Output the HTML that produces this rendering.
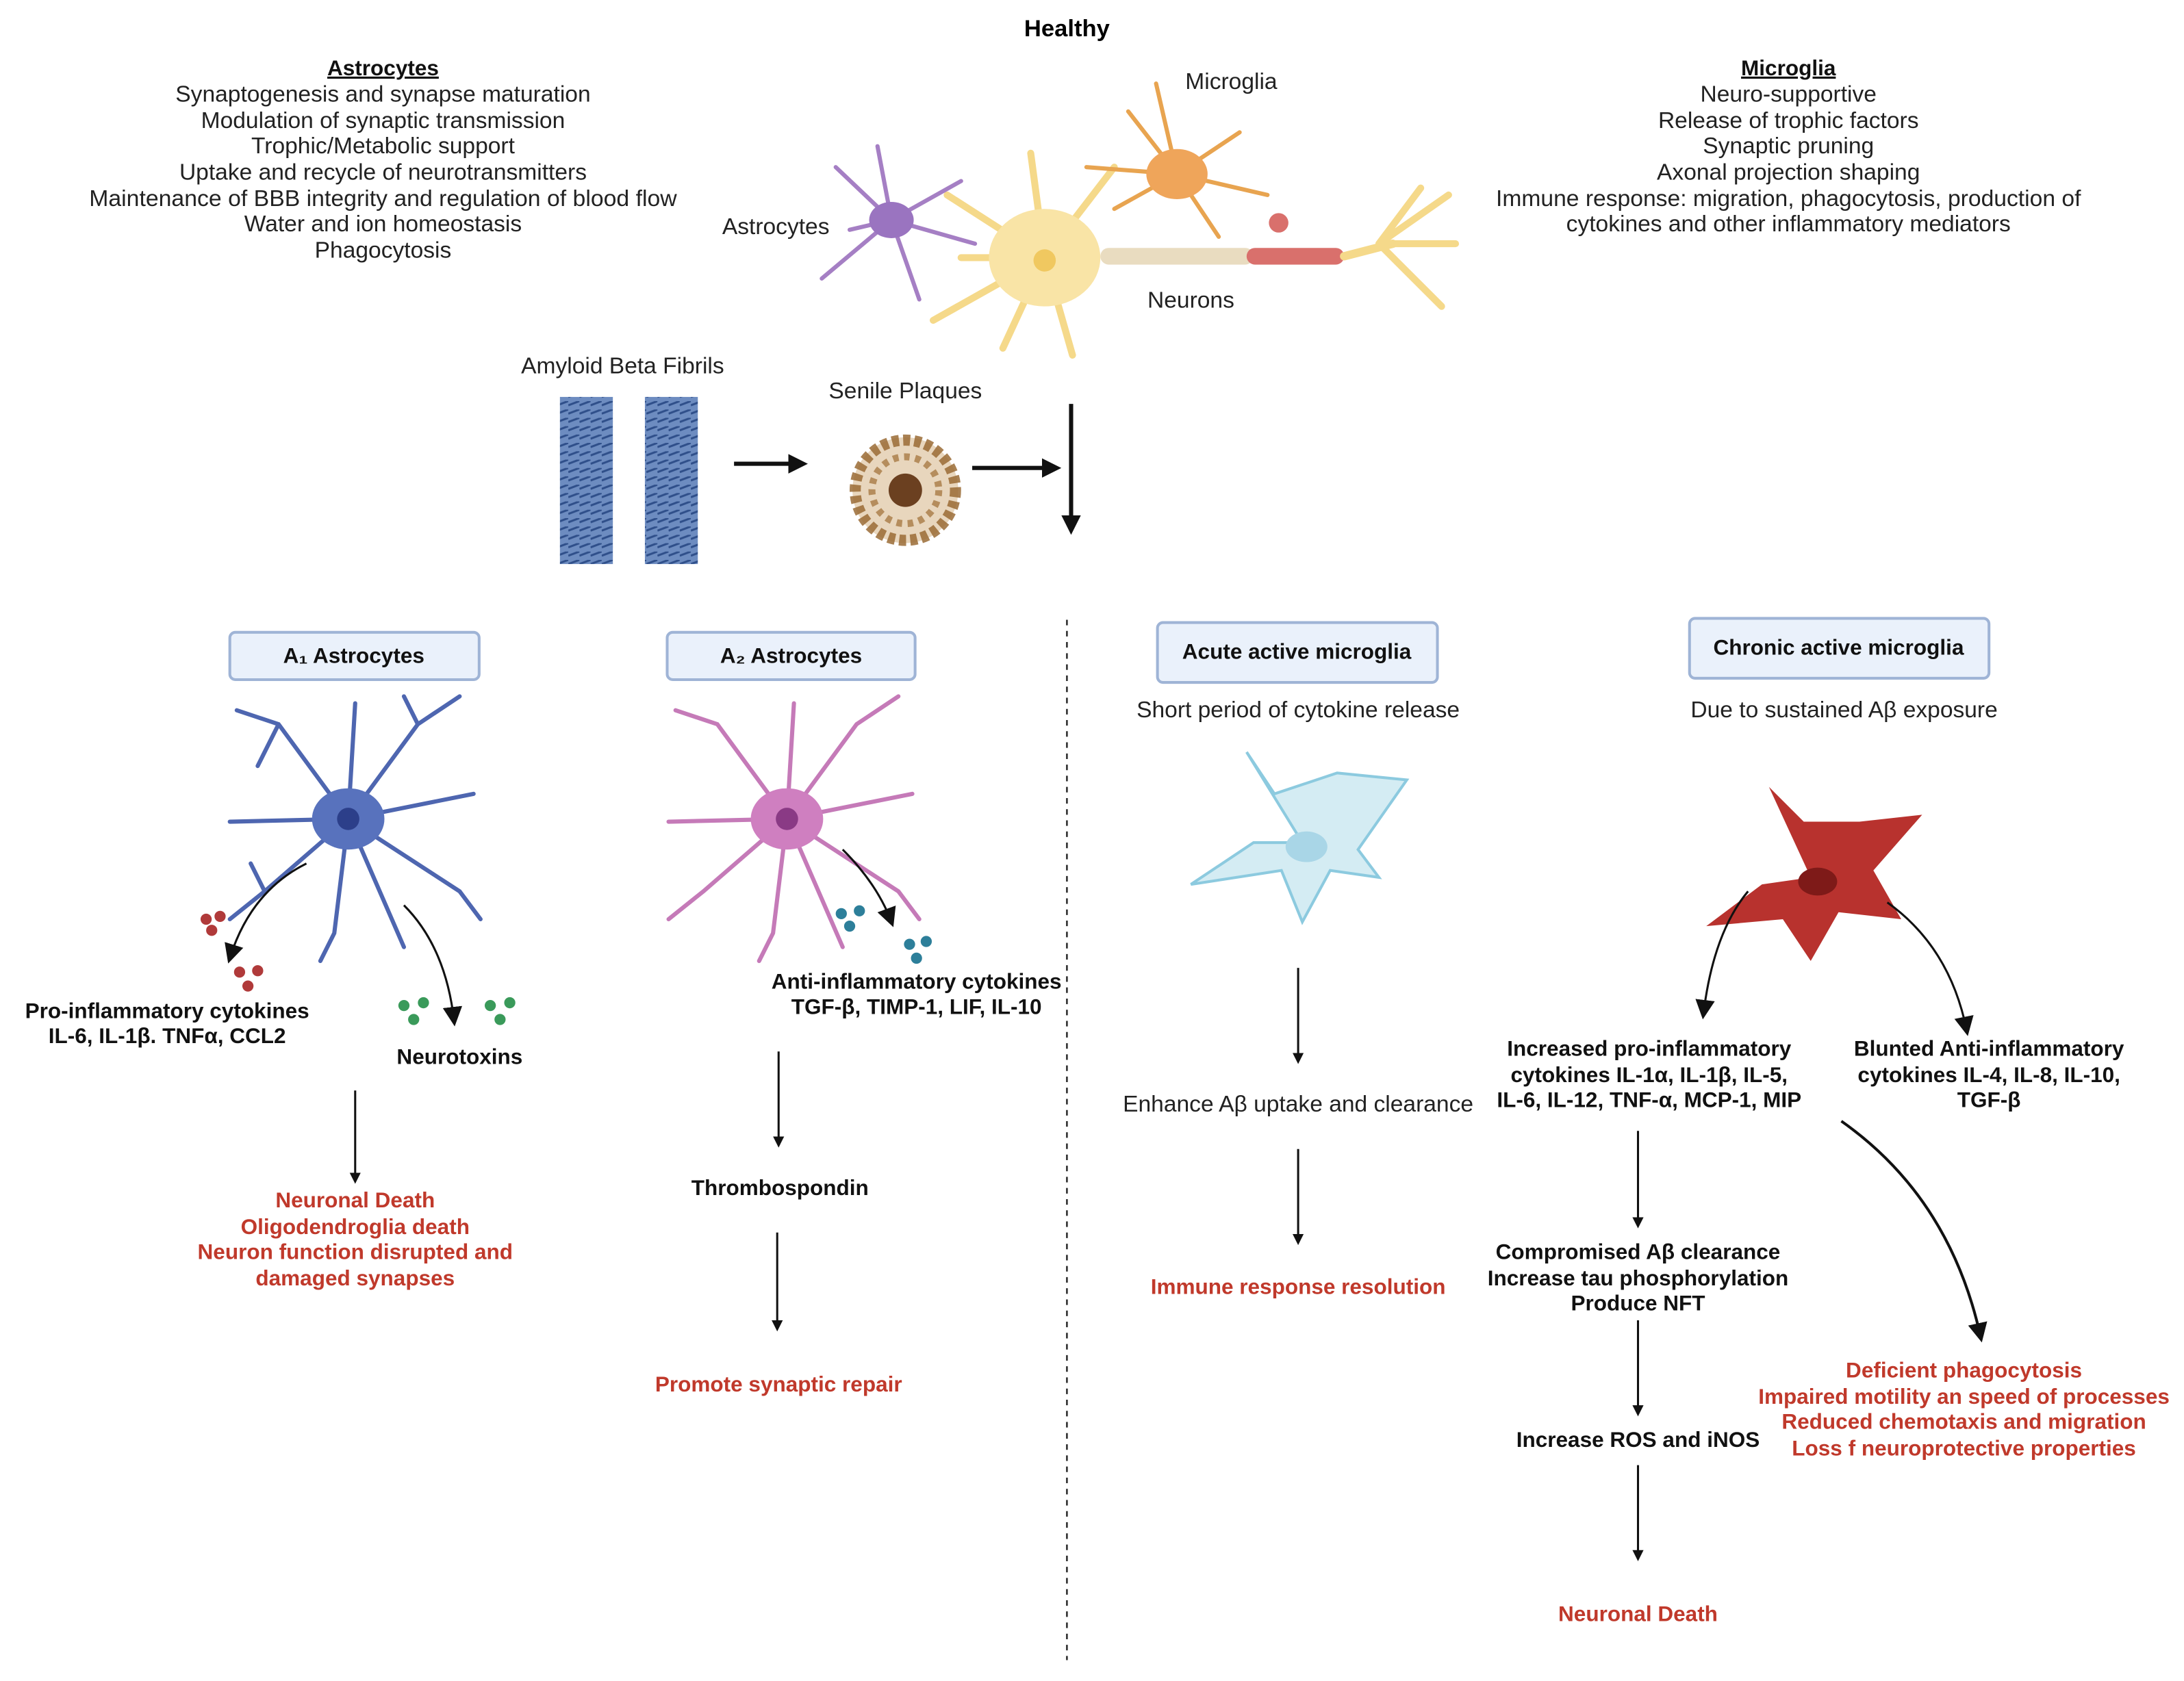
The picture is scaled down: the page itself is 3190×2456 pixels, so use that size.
<!DOCTYPE html>
<html><head><meta charset="utf-8"><style>
html,body{margin:0;padding:0;background:#fff;}
svg{display:block;}
text{font-family:"Liberation Sans",sans-serif;}
.n{font-size:16.5px;fill:#222;}
.b{font-size:15.5px;font-weight:bold;fill:#111;}
.r{font-size:15.5px;font-weight:bold;fill:#c0392b;}
.box{fill:#eaf1fb;stroke:#9fb4d6;stroke-width:2;}
</style></head><body>
<svg width="3190" height="2456" viewBox="0 0 1568 1207" preserveAspectRatio="none" xmlns="http://www.w3.org/2000/svg">
<defs>
<marker id="ah" markerWidth="8" markerHeight="8" refX="6" refY="4" orient="auto" markerUnits="userSpaceOnUse"><path d="M0,0 L8,4 L0,8 z" fill="#111"/></marker>
<marker id="ahb" markerWidth="14" markerHeight="14" refX="10" refY="7" orient="auto" markerUnits="userSpaceOnUse"><path d="M0,0 L14,7 L0,14 z" fill="#111"/></marker>
<pattern id="fib" width="8" height="6" patternUnits="userSpaceOnUse"><rect width="8" height="6" fill="#6d8cc0"/><path d="M0,3 L8,0" stroke="#2f4f8a" stroke-width="1.5"/></pattern>
</defs>
<text x="766" y="26" text-anchor="middle" style="font-size:17px;font-weight:bold">Healthy</text>
<g text-anchor="middle" class="n">
<text x="275" y="54" class="b" text-decoration="underline">Astrocytes</text>
<text x="275" y="73" class="n">Synaptogenesis and synapse maturation</text>
<text x="275" y="92" class="n">Modulation of synaptic transmission</text>
<text x="275" y="110" class="n">Trophic/Metabolic support</text>
<text x="275" y="129" class="n">Uptake and recycle of neurotransmitters</text>
<text x="275" y="148" class="n" textLength="422" lengthAdjust="spacingAndGlyphs">Maintenance of BBB integrity and regulation of blood flow</text>
<text x="275" y="166" class="n">Water and ion homeostasis</text>
<text x="275" y="185" class="n">Phagocytosis</text>
<text x="1284" y="54" class="b" text-decoration="underline">Microglia</text>
<text x="1284" y="73" class="n">Neuro-supportive</text>
<text x="1284" y="92" class="n">Release of trophic factors</text>
<text x="1284" y="110" class="n">Synaptic pruning</text>
<text x="1284" y="129" class="n">Axonal projection shaping</text>
<text x="1284" y="148" class="n" textLength="420" lengthAdjust="spacingAndGlyphs">Immune response: migration, phagocytosis, production of</text>
<text x="1284" y="166" class="n">cytokines and other inflammatory mediators</text>
<text x="884" y="64" class="n">Microglia</text>
<text x="557" y="168" class="n">Astrocytes</text>
<text x="855" y="221" class="n">Neurons</text>
<text x="447" y="268" class="n">Amyloid Beta Fibrils</text>
<text x="650" y="286" class="n">Senile Plaques</text>
</g>
<!-- healthy cells -->
<g stroke-linecap="round" fill="none">
<g stroke="#f5d98a" stroke-width="5">
<path d="M750,185 L680,140 M750,185 L670,230 M750,185 L720,250 M750,185 L770,255 M750,185 L740,110 M750,185 L800,120 M750,185 L690,185 M990,175 L1040,140 M990,175 L1035,220 M990,175 L1020,135 M1000,175 L1045,175"/>
</g>
<ellipse cx="750" cy="185" rx="40" ry="35" fill="#f9e4a6"/>
<circle cx="750" cy="187" r="8" fill="#f0c860"/>
<rect x="790" y="178" width="110" height="12" rx="6" fill="#e9dcc0"/>
<rect x="895" y="178" width="70" height="12" rx="6" fill="#d9706c"/>
<path d="M965,184 L1000,175" stroke="#f5d98a" stroke-width="6"/>
<circle cx="918" cy="160" r="7" fill="#d9706c"/>
<g stroke="#a57fc4" stroke-width="3"><path d="M640,158 L600,120 M640,158 L590,200 M640,158 L660,215 M640,158 L690,130 M640,158 L630,105 M640,158 L700,175 M640,158 L610,165"/></g>
<ellipse cx="640" cy="158" rx="16" ry="13" fill="#9a74c0"/>
<g stroke="#e8a450" stroke-width="3"><path d="M845,125 L810,80 M845,125 L830,60 M845,125 L890,95 M845,125 L910,140 M845,125 L800,150 M845,125 L875,170 M845,125 L780,120"/></g>
<ellipse cx="845" cy="125" rx="22" ry="18" fill="#efa55a"/>
</g>
<!-- fibrils -->
<g>
<rect x="402" y="285" width="38" height="120" fill="url(#fib)"/>
<rect x="463" y="285" width="38" height="120" fill="url(#fib)"/>
<circle cx="650" cy="352" r="38" fill="#e8d6bd"/>
<circle cx="650" cy="352" r="36" fill="none" stroke="#9a6b35" stroke-width="8" stroke-dasharray="5,3" opacity="0.85"/>
<circle cx="650" cy="352" r="24" fill="none" stroke="#a87a45" stroke-width="5" stroke-dasharray="4,4" opacity="0.8"/>
<circle cx="650" cy="352" r="12" fill="#6b4020"/>
</g>
<g stroke="#111" stroke-width="3" fill="none">
<line x1="527" y1="333" x2="576" y2="333" marker-end="url(#ahb)"/>
<line x1="698" y1="336" x2="758" y2="336" marker-end="url(#ahb)"/>
<line x1="769" y1="290" x2="769" y2="380" marker-end="url(#ahb)"/>
</g>
<line x1="766" y1="445" x2="766" y2="1192" stroke="#333" stroke-width="1.3" stroke-dasharray="4,4"/>
<!-- boxes -->
<rect class="box" x="165" y="454" width="179" height="34" rx="4"/>
<text x="254" y="476" text-anchor="middle" class="b">A₁ Astrocytes</text>
<rect class="box" x="479" y="454" width="178" height="34" rx="4"/>
<text x="568" y="476" text-anchor="middle" class="b">A₂ Astrocytes</text>
<rect class="box" x="831" y="447" width="201" height="43" rx="4"/>
<text x="931" y="473" text-anchor="middle" class="b">Acute active microglia</text>
<rect class="box" x="1213" y="444" width="215" height="43" rx="4"/>
<text x="1320" y="470" text-anchor="middle" class="b">Chronic active microglia</text>
<!-- astro A1 -->
<g stroke="#4e66b0" stroke-width="3" fill="none" stroke-linecap="round">
<path d="M250,588 L200,520 L170,510 M250,588 L255,505 M250,588 L300,520 L330,500 M250,588 L340,570 M250,588 L330,640 L345,660 M250,588 L290,680 M250,588 L240,670 L230,690 M250,588 L190,640 L165,660 M250,588 L165,590 M200,520 L185,550 M300,520 L290,500 M190,640 L180,620"/>
</g>
<ellipse cx="250" cy="588" rx="26" ry="22" fill="#5872bd"/>
<circle cx="250" cy="588" r="8" fill="#2c3f8a"/>
<!-- astro A2 -->
<g stroke="#c57ab8" stroke-width="3" fill="none" stroke-linecap="round">
<path d="M565,588 L515,520 L485,510 M565,588 L570,505 M565,588 L615,520 L645,500 M565,588 L655,570 M565,588 L645,640 L660,660 M565,588 L605,680 M565,588 L555,670 L545,690 M565,588 L505,640 L480,660 M565,588 L480,590"/>
</g>
<ellipse cx="565" cy="588" rx="26" ry="22" fill="#cf7fc0"/>
<circle cx="565" cy="588" r="8" fill="#8a3a85"/>
<!-- microglia acute -->
<path d="M935,605 L895,540 L915,570 L960,555 L1010,560 L975,610 L990,630 L955,625 L935,662 L920,625 L855,635 L900,605 Z" fill="#d4ecf3" stroke="#8ccadf" stroke-width="2"/>
<ellipse cx="938" cy="608" rx="15" ry="11" fill="#a9d6e7"/>
<!-- microglia chronic -->
<path d="M1300,630 L1270,565 L1295,590 L1335,590 L1380,585 L1345,625 L1365,660 L1320,655 L1300,690 L1280,660 L1225,665 L1265,635 Z" fill="#b8322e"/>
<ellipse cx="1305" cy="633" rx="14" ry="10" fill="#7e1a18"/>
<!-- dots -->
<g fill="#b03a3a"><circle cx="148" cy="660" r="4"/><circle cx="158" cy="658" r="4"/><circle cx="152" cy="668" r="4"/><circle cx="172" cy="698" r="4"/><circle cx="185" cy="697" r="4"/><circle cx="178" cy="708" r="4"/></g>
<g fill="#3a9a5a"><circle cx="290" cy="722" r="4"/><circle cx="304" cy="720" r="4"/><circle cx="297" cy="732" r="4"/><circle cx="352" cy="722" r="4"/><circle cx="366" cy="720" r="4"/><circle cx="359" cy="732" r="4"/></g>
<g fill="#2d7f9a"><circle cx="604" cy="656" r="4"/><circle cx="617" cy="654" r="4"/><circle cx="610" cy="665" r="4"/><circle cx="653" cy="678" r="4"/><circle cx="665" cy="676" r="4"/><circle cx="658" cy="688" r="4"/></g>
<!-- arrows -->
<g stroke="#111" stroke-width="1.5" fill="none">
<path d="M220,620 Q180,640 165,688" marker-end="url(#ahb)"/>
<path d="M290,650 Q320,680 326,733" marker-end="url(#ahb)"/>
<path d="M605,610 Q630,635 640,662" marker-end="url(#ahb)"/>
<path d="M1255,640 Q1230,670 1223,728" marker-end="url(#ahb)"/>
<path d="M1355,648 Q1400,680 1412,740" marker-end="url(#ahb)"/>
<path d="M1322,805 Q1400,860 1422,960" stroke-width="2" marker-end="url(#ahb)"/>
<line x1="255" y1="783" x2="255" y2="848" marker-end="url(#ah)"/>
<line x1="559" y1="755" x2="559" y2="822" marker-end="url(#ah)"/>
<line x1="558" y1="885" x2="558" y2="954" marker-end="url(#ah)"/>
<line x1="932" y1="695" x2="932" y2="762" marker-end="url(#ah)"/>
<line x1="932" y1="825" x2="932" y2="892" marker-end="url(#ah)"/>
<line x1="1176" y1="812" x2="1176" y2="880" marker-end="url(#ah)"/>
<line x1="1176" y1="948" x2="1176" y2="1015" marker-end="url(#ah)"/>
<line x1="1176" y1="1052" x2="1176" y2="1119" marker-end="url(#ah)"/>
</g>
<g text-anchor="middle">
<text x="120" y="731" class="b">Pro-inflammatory cytokines</text>
<text x="120" y="749" class="b">IL-6, IL-1β. TNFα, CCL2</text>
<text x="330" y="764" class="b">Neurotoxins</text>
<text x="255" y="867" class="r">Neuronal Death</text>
<text x="255" y="886" class="r">Oligodendroglia death</text>
<text x="255" y="904" class="r">Neuron function disrupted and</text>
<text x="255" y="923" class="r">damaged synapses</text>
<text x="658" y="710" class="b">Anti-inflammatory cytokines</text>
<text x="658" y="728" class="b">TGF-β, TIMP-1, LIF, IL-10</text>
<text x="560" y="858" class="b">Thrombospondin</text>
<text x="559" y="999" class="r">Promote synaptic repair</text>
<text x="932" y="515" class="n">Short period of cytokine release</text>
<text x="932" y="798" class="n">Enhance Aβ uptake and clearance</text>
<text x="932" y="929" class="r">Immune response resolution</text>
<text x="1324" y="515" class="n">Due to sustained Aβ exposure</text>
<text x="1184" y="758" class="b">Increased pro-inflammatory</text>
<text x="1184" y="777" class="b">cytokines IL-1α, IL-1β, IL-5,</text>
<text x="1184" y="795" class="b">IL-6, IL-12, TNF-α, MCP-1, MIP</text>
<text x="1428" y="758" class="b">Blunted Anti-inflammatory</text>
<text x="1428" y="777" class="b">cytokines IL-4, IL-8, IL-10,</text>
<text x="1428" y="795" class="b">TGF-β</text>
<text x="1176" y="904" class="b">Compromised Aβ clearance</text>
<text x="1176" y="923" class="b">Increase tau phosphorylation</text>
<text x="1176" y="941" class="b">Produce NFT</text>
<text x="1176" y="1039" class="b">Increase ROS and iNOS</text>
<text x="1176" y="1164" class="r">Neuronal Death</text>
<text x="1410" y="989" class="r">Deficient phagocytosis</text>
<text x="1410" y="1008" class="r">Impaired motility an speed of processes</text>
<text x="1410" y="1026" class="r">Reduced chemotaxis and migration</text>
<text x="1410" y="1045" class="r">Loss f neuroprotective properties</text>
</g>
</svg>
</body></html>
